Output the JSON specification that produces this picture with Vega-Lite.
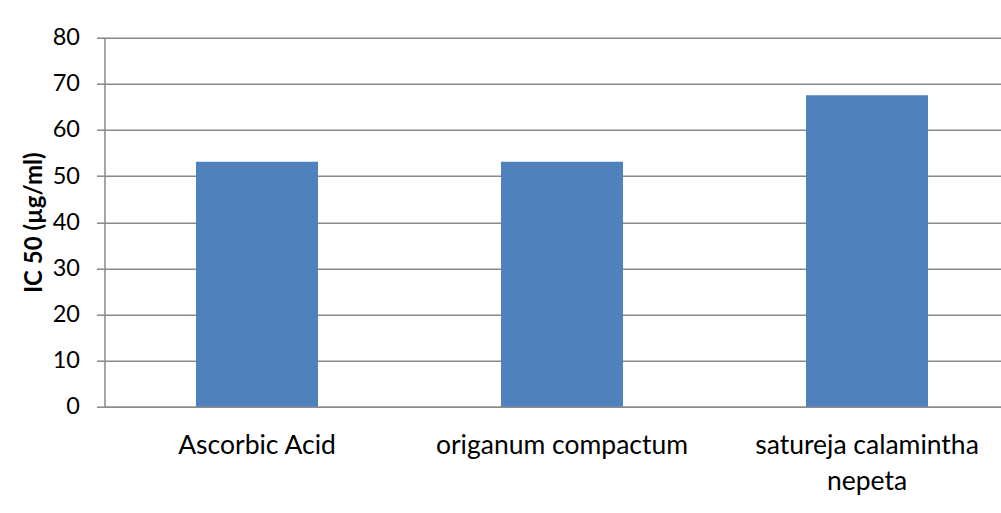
{
  "$schema": "https://vega.github.io/schema/vega-lite/v6.json",
  "autosize": {"type": "none"},
  "padding": {"left": 104.5, "top": 37.7, "right": 0, "bottom": 106.3},
  "width": 896.5,
  "height": 369,
  "background": "white",
  "data": {
    "values": [
      {"sample": "Ascorbic Acid", "ic50": 53.1},
      {"sample": "origanum compactum", "ic50": 53.1},
      {"sample": "satureja calamintha nepeta", "ic50": 67.5}
    ]
  },
  "mark": {"type": "bar", "color": "#4F81BD"},
  "encoding": {
    "x": {
      "field": "sample",
      "type": "nominal",
      "sort": null,
      "scale": {"range": [0, 915], "paddingInner": 0.6, "paddingOuter": 0.3},
      "axis": {
        "title": null,
        "labelAngle": 0,
        "ticks": false,
        "tickSize": 0,
        "labelFont": "Lato",
        "labelFontSize": 26.5,
        "labelColor": "#000000",
        "labelBaseline": "alphabetic",
        "labelPadding": 47,
        "labelLineHeight": 36,
        "labelLimit": 400,
        "domainColor": "#8c8c8c",
        "domainWidth": 1.5,
        "labelExpr": "datum.label == 'satureja calamintha nepeta' ? ['satureja calamintha', 'nepeta'] : datum.label"
      }
    },
    "y": {
      "field": "ic50",
      "type": "quantitative",
      "scale": {"domain": [0, 80], "nice": false},
      "axis": {
        "title": "IC 50 (µg/ml)",
        "values": [0, 10, 20, 30, 40, 50, 60, 70, 80],
        "labelFont": "Lato",
        "labelFontSize": 23.5,
        "labelColor": "#000000",
        "labelPadding": 17,
        "tickSize": 8,
        "tickColor": "#888888",
        "tickWidth": 1.5,
        "domainColor": "#888888",
        "domainWidth": 1.5,
        "grid": true,
        "gridColor": "#888888",
        "gridWidth": 1.5,
        "titleFont": "Lato",
        "titleFontSize": 24,
        "titleFontWeight": "bold",
        "titleColor": "#000000",
        "titlePadding": 6
      }
    }
  },
  "config": {"view": {"stroke": null}}
}
